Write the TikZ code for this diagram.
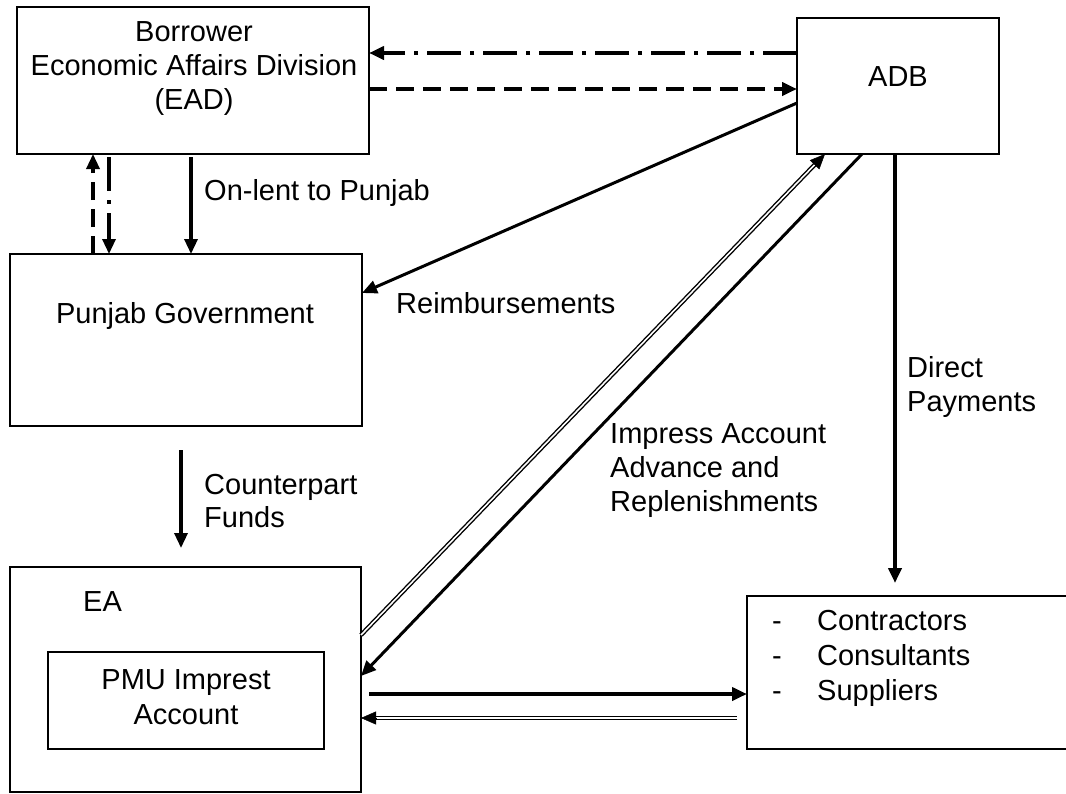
\documentclass[tikz,border=0pt]{standalone}
\usepackage{fontspec}
\setmainfont{Liberation Sans}
\usetikzlibrary{arrows.meta,calc}
\tikzset{
  box/.style={draw, line width=2pt, anchor=north west, inner sep=0pt, outer sep=0pt},
  lbl/.style={inner sep=0pt, align=left, anchor=west},
  tipT/.style={-{Triangle[length=15pt,width=13pt]}},
  arr/.style={tipT, line width=3pt},
  thickarr/.style={tipT, line width=4pt},
  dashpat/.style={dash pattern=on 18pt off 9pt},
  dashdotpat/.style={dash pattern=on 34pt off 9pt on 4pt off 9pt},
  dbl/.style={double, double distance=1.6pt, line width=1.4pt},
  tiponly/.style={tipT, line width=0.5pt},
}
\begin{document}
\begin{tikzpicture}[x=1pt,y=-1pt, font=\fontsize{29}{34}\selectfont]
\path[use as bounding box, clip] (0,0) rectangle (1066,793);
\fill[white] (0,0) rectangle (1066,793);

% boxes
\node[box, minimum width=352pt, minimum height=147pt] (ead) at (17,7) {};
\node[box, minimum width=202pt, minimum height=136pt] (adb) at (797,18) {};
\node[box, minimum width=352pt, minimum height=172pt] (pg) at (10,254) {};
\node[box, minimum width=351pt, minimum height=225pt] (ea) at (10,567) {};
\node[box, minimum width=276pt, minimum height=97pt] (pmu) at (48,652) {};
\node[box, minimum width=340pt, minimum height=153pt] (con) at (747,596) {};

% box texts
\node[inner sep=0pt, align=center] (eadtxt) at (194,68.5) {Borrower\\Economic Affairs Division\\(EAD)};
\node[inner sep=0pt] (adbtxt) at (898,77) {ADB};
\node[inner sep=0pt] (pgtxt) at (185,316) {Punjab Government};
\node[lbl] (eatxt) at (83,602) {EA};
\node[inner sep=0pt, align=center, font=\fontsize{29}{35}\selectfont] (pmutxt) at (186,697.5) {PMU Imprest\\Account};
\node[lbl, font=\fontsize{29}{35}\selectfont] (contxt) at (772,658) {\makebox[45pt][l]{-}Contractors\\\makebox[45pt][l]{-}Consultants\\\makebox[45pt][l]{-}Suppliers};

% connector labels
\node[lbl] (l1) at (204,193) {On-lent to Punjab};
\node[lbl] (l2) at (396,303) {Reimbursements};
\node[lbl] (l3) at (610,471) {Impress Account\\Advance and\\Replenishments};
\node[lbl] (l4) at (907,387) {Direct\\Payments};
\node[lbl, font=\fontsize{29}{33}\selectfont] (l5) at (204,501.5) {Counterpart\\Funds};

% named end points
\coordinate (a1) at ($(adb.north west)+(0,35)$);
\coordinate (e1) at ($(ead.north east)+(0,46)$);
\coordinate (e2) at ($(ead.north east)+(0,82)$);
\coordinate (a2) at ($(adb.north west)+(0,71)$);
\coordinate (a3) at ($(adb.north west)+(0,85)$);
\coordinate (p1) at ($(pg.north east)+(0,39)$);
\coordinate (e3) at ($(ead.south west)+(92,3)$);
\coordinate (p2) at ($(pg.north west)+(99,0)$);
\coordinate (p3) at ($(pg.north west)+(83,0)$);
\coordinate (e4) at ($(ead.south west)+(76,0)$);
\coordinate (e5) at ($(ead.south west)+(174,3)$);
\coordinate (p4) at ($(pg.north west)+(181,0)$);
\coordinate (p5) at ($(pg.south west)+(171,24)$);
\coordinate (x1) at ($(ea.north west)+(171,-19)$);
\coordinate (x2) at ($(ea.north east)+(0,68)$);
\coordinate (a4) at ($(adb.south west)+(28,0)$);
\coordinate (a5) at ($(adb.south west)+(65,0)$);
\coordinate (x3) at ($(ea.north east)+(0,109)$);
\coordinate (a6) at ($(adb.south west)+(98,0)$);
\coordinate (c1) at ($(con.north west)+(148,-13)$);
\coordinate (x4) at ($(ea.north east)+(8,127)$);
\coordinate (c2) at ($(con.north west)+(0,98)$);
\coordinate (c3) at ($(con.north west)+(-10,122)$);
\coordinate (x5) at ($(ea.north east)+(0,151)$);

% connectors
\draw[thickarr, dashdotpat] (a1) -- (e1);
\draw[thickarr, dashpat] (e2) -- (a2);
\draw[arr] (a3) -- (p1);
\draw[arr, line width=3.3pt, dashdotpat] (e3) -- (p2);
\draw[arr, line width=3.3pt, dashpat] (p3) -- (e4);
\draw[arr, line width=3.3pt] (e5) -- (p4);
\draw[arr, line width=3.3pt] (p5) -- (x1);
\draw[dbl] (x2) -- ($(a4)!14pt!(x2)$);
\draw[tiponly] ($(a4)!15pt!(x2)$) -- (a4);
\draw[arr] (a5) -- (x3);
\draw[thickarr] (a6) -- (c1);
\draw[thickarr] (x4) -- (c2);
\draw[dbl] (c3) -- ($(x5)!14pt!(c3)$);
\draw[tiponly] ($(x5)!15pt!(c3)$) -- (x5);
\end{tikzpicture}
\end{document}
